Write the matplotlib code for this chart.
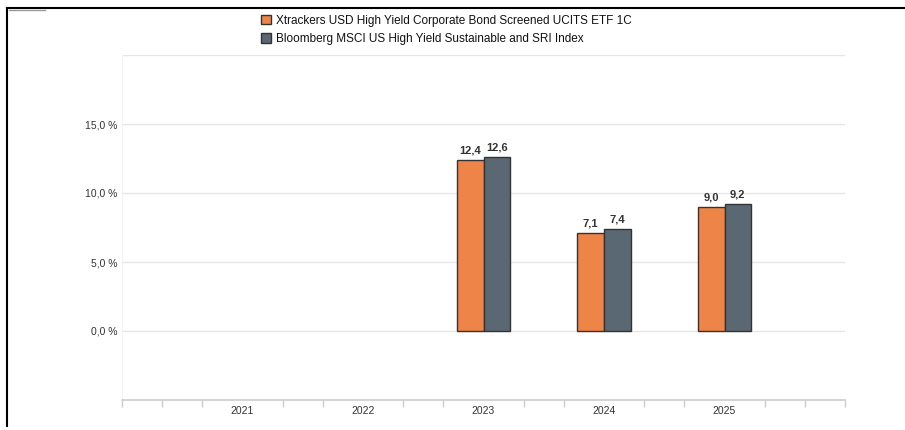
import matplotlib
matplotlib.use('Agg')
import matplotlib.pyplot as plt
from matplotlib.lines import Line2D
from matplotlib.patches import Patch
import numpy as np

# data
years = ['2021', '2022', '2023', '2024', '2025']
fund = [np.nan, np.nan, 12.4, 7.1, 9.0]
index = [np.nan, np.nan, 12.6, 7.4, 9.2]
fund_name = 'Xtrackers USD High Yield Corporate Bond Screened UCITS ETF 1C'
index_name = 'Bloomberg MSCI US High Yield Sustainable and SRI Index'
y_ticks = [0, 5, 10, 15, 20]

ORANGE = '#EF8449'
SLATE = '#5A6873'
EDGE = '#333333'
GRID = '#e6e6e6'
TEXT = '#333333'

plt.rcParams['font.family'] = ['Liberation Sans', 'DejaVu Sans']

fig = plt.figure(figsize=(9.05, 4.30), dpi=100)
ax = fig.add_axes([122 / 905, 1 - 400 / 430, (845 - 122) / 905, (400 - 55) / 430])

x = np.arange(len(years))
w = 0.22
ax.bar(x - w / 2, fund, w, color=ORANGE, edgecolor=EDGE, linewidth=1, zorder=3)
ax.bar(x + w / 2, index, w, color=SLATE, edgecolor=EDGE, linewidth=1, zorder=3)

for xi, v in zip(x, fund):
    if not np.isnan(v):
        ax.annotate(f'{v:.1f}'.replace('.', ','), (xi - w / 2, v), xytext=(0, 3),
                    textcoords='offset points', ha='center', va='bottom',
                    fontsize=8, fontweight='bold', color=TEXT)
for xi, v in zip(x, index):
    if not np.isnan(v):
        ax.annotate(f'{v:.1f}'.replace('.', ','), (xi + w / 2, v), xytext=(0, 3),
                    textcoords='offset points', ha='center', va='bottom',
                    fontsize=8, fontweight='bold', color=TEXT)

ax.set_xlim(-1, len(years))
ax.set_ylim(-5, 20)

# horizontal grid
for t in y_ticks:
    ax.axhline(t, color=GRID, linewidth=1, zorder=1)
ax.set_yticks(y_ticks[:-1])
ax.set_yticklabels([f'{t:.1f} %'.replace('.', ',') for t in y_ticks[:-1]])
ax.tick_params(axis='y', length=0, labelsize=7.5, labelcolor=TEXT, pad=3)

# category labels, tick marks at group edges
ax.set_xticks(x)
ax.set_xticklabels(years)
ax.tick_params(axis='x', length=0, labelsize=7.5, labelcolor=TEXT, pad=4)
edges = []
for c in range(-1, len(years) + 1):
    edges += [c - 1 / 3, c + 1 / 3]
edges = [e for e in edges if -1 <= e <= len(years)] + [-1, len(years)]
ax.set_xticks(edges, minor=True)
ax.tick_params(axis='x', which='minor', length=5, color='#cccccc', width=1)

for s in ['top', 'right']:
    ax.spines[s].set_visible(False)
ax.spines['left'].set_color('#f3f3f3')
ax.spines['bottom'].set_color('#cccccc')
ax.spines['bottom'].set_linewidth(1.2)

handles = [Patch(facecolor=ORANGE, edgecolor=EDGE, label=fund_name),
           Patch(facecolor=SLATE, edgecolor=EDGE, label=index_name)]
fig.legend(handles=handles, loc='upper left', bbox_to_anchor=(250 / 905, 1 - 4 / 430),
           frameon=False, fontsize=8.5, handlelength=0.85, handleheight=0.85,
           handletextpad=0.45, labelspacing=0.55, labelcolor='#111111')

# frame lines of the screenshot
fig.add_artist(Line2D([7 / 905, 1], [1 - 8 / 430, 1 - 8 / 430], color='black', linewidth=1.5))
fig.add_artist(Line2D([7 / 905, 7 / 905], [1 - 8 / 430, 1 - 426 / 430], color='black', linewidth=1.5))
fig.add_artist(Line2D([9 / 905, 45 / 905], [1 - 10 / 430, 1 - 10 / 430], color='#999999', linewidth=1))

fig.savefig('out.png', dpi=100)
